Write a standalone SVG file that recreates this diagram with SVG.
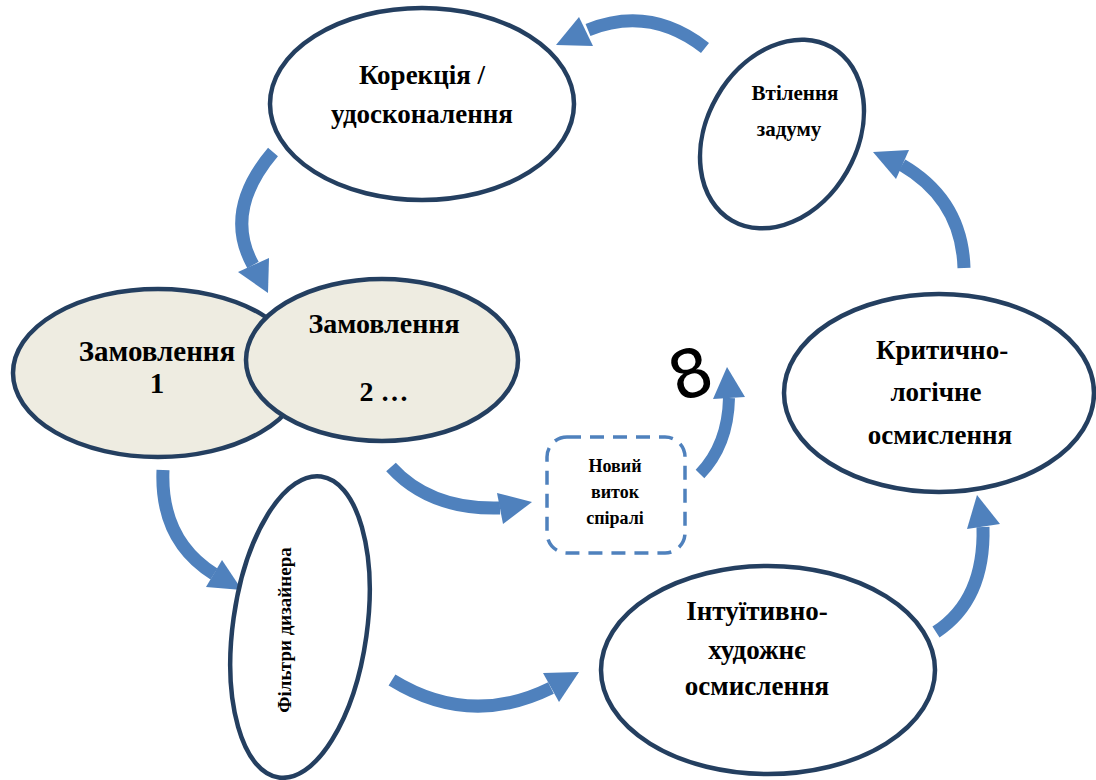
<svg xmlns="http://www.w3.org/2000/svg" width="1096" height="780" viewBox="0 0 1096 780">
<style>
.node{fill:#fff;stroke:#243F60;stroke-width:4.5}
.beige{fill:#EEECE1}
.t{font-family:"Liberation Serif","Times New Roman",serif;font-weight:bold;fill:#000;text-anchor:middle}
.shaft{fill:none;stroke:#4F81BD;stroke-width:13}
.head{fill:#4F81BD}
</style>
<rect width="1096" height="780" fill="#fff"/>
<g id="connectors">
<path class="shaft" d="M705 48 Q650 5 588 30"/><polygon class="head" points="556,45 579,17 593,46"/>
<path class="shaft" d="M273 152 Q223 211 253 265"/><polygon class="head" points="268,293 238,272 269,258"/>
<path class="shaft" d="M163 470 Q160 540 214 574"/><polygon class="head" points="242,590 206,587 222,560"/>
<path class="shaft" d="M391 467 Q430 510 500 508"/><polygon class="head" points="532,502 497,493 503,524"/>
<path class="shaft" d="M392 680 Q470 728 551 688"/><polygon class="head" points="579,672 543,673 559,702"/>
<path class="shaft" d="M936 632 Q985 600 983 527"/><polygon class="head" points="977,495 967,529 1000,524"/>
<path class="shaft" d="M964 268 Q962 200 902 165"/><polygon class="head" points="873,152 909,150 896,179"/>
<path class="shaft" style="stroke-width:12" d="M700 474 Q728 445 729 398"/><polygon class="head" points="727,367 713,399 745,397"/>
</g>
<g id="n-korekcia"><ellipse class="node" cx="422" cy="104" rx="152" ry="96"/>
<text class="t" x="422" y="84" font-size="27">Корекція /</text>
<text class="t" x="422" y="123" font-size="27">удосконалення</text></g>
<g id="n-vtilennia"><ellipse class="node" cx="782" cy="134" rx="75" ry="100" transform="rotate(30 782 134)"/>
<text class="t" x="795" y="100" font-size="21">Втілення</text>
<text class="t" x="789" y="136" font-size="21">задуму</text></g>
<g id="n-krytychno"><ellipse class="node" cx="939" cy="393" rx="155" ry="99"/>
<text class="t" x="942" y="359" font-size="27">Критично-</text>
<text class="t" x="936" y="401" font-size="27">логічне</text>
<text class="t" x="940" y="444" font-size="27">осмислення</text></g>
<g id="n-intuityvno"><ellipse class="node" cx="768" cy="670" rx="167" ry="104"/>
<text class="t" x="757" y="620" font-size="27">Інтуїтивно-</text>
<text class="t" x="757" y="659" font-size="27">художнє</text>
<text class="t" x="757" y="695" font-size="27">осмислення</text></g>
<g id="n-filtry"><ellipse class="node" cx="300" cy="627" rx="67" ry="152" transform="rotate(8 300 627)"/>
<text class="t" font-size="19" transform="translate(291 630) rotate(-90)">Фільтри дизайнера</text></g>
<g id="n-zam1"><ellipse class="node beige" cx="158" cy="373" rx="145" ry="84"/>
<text class="t" x="157" y="361" font-size="29">Замовлення</text>
<text class="t" x="157" y="393" font-size="29">1</text></g>
<g id="n-zam2"><ellipse class="node beige" cx="382" cy="360" rx="136" ry="81"/>
<text class="t" x="384" y="333" font-size="28">Замовлення</text>
<text class="t" x="384" y="401" font-size="28">2 …</text></g>
<g id="n-novyi"><rect x="547" y="437" width="138" height="116" rx="20" fill="none" stroke="#4F81BD" stroke-width="3.5" stroke-dasharray="14 9"/>
<text class="t" x="615" y="472" font-size="18">Новий</text>
<text class="t" x="615" y="498" font-size="18">виток</text>
<text class="t" x="615" y="524" font-size="18">спіралі</text></g>
<text x="690" y="397" font-family="DejaVu Sans,sans-serif" font-size="66" fill="#000" text-anchor="middle" transform="rotate(-18 690 372)">8</text>
</svg>
